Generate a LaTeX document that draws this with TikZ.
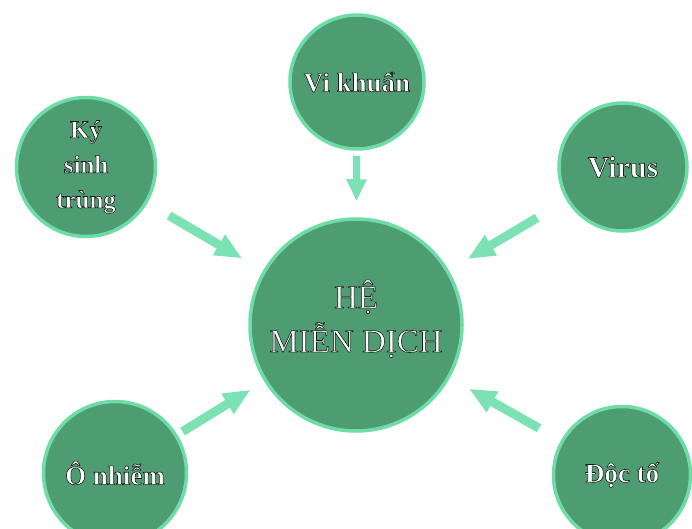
\documentclass[tikz,border=0pt]{standalone}
\usepackage{fontspec}
\setmainfont{Liberation Serif}
\usetikzlibrary{arrows.meta}

\definecolor{nen}{HTML}{4E9C72}
\definecolor{vien}{HTML}{6EDCA6}
\definecolor{muiten}{HTML}{7DE2B3}

% chữ trắng, viền tối
\newcommand{\chu}[1]{\special{pdf:code 2 Tr 0.6 w 0.1 0.1 0.1 RG}#1\special{pdf:code 0 Tr}}

\begin{document}
\begin{tikzpicture}[%
    x=1pt, y=-1pt,
    font=\bfseries\fontsize{27}{35}\selectfont,
    >={Triangle[width=22pt,length=27pt]} % đầu mũi tên
    ]
    \useasboundingbox (0,0) rectangle (692,529);

    \tikzset{
        Vong/.style={circle,draw=vien,line width=3.5pt,fill=nen,
            text=white,align=center,inner sep=0pt,minimum size=#1}, % vòng tròn
        MuiTen/.style={draw=muiten,line width=9pt,->}, % mũi tên
        MuiTenNho/.style={MuiTen,line width=7pt,
            >={Triangle[width=19pt,length=22pt]}}
    }

    % vòng tròn
    \node[Vong=212pt, text depth=18pt, font=\mdseries\fontsize{33}{44}\selectfont]
        (HMD) at (356,325) {\chu{HỆ}\\\chu{MIỄN DỊCH}};
    \node[Vong=134pt] (VK)  at (357,82)  {\chu{Vi khuẩn}};
    \node[Vong=139pt, font=\bfseries\fontsize{25}{35}\selectfont]
        (KST) at (86,167) {\chu{Ký}\\\chu{sinh}\\\chu{trùng}};
    \node[Vong=128pt, font=\bfseries\fontsize{30}{35}\selectfont]
        (VR)  at (623,167) {\chu{Virus}};
    \node[Vong=143pt] (ON)  at (115,473) {\chu{Ô nhiễm}};
    \node[Vong=137pt] (DT)  at (622,475) {\chu{Độc tố}};

    % mũi tên
    \draw[MuiTenNho, shorten <=5pt, shorten >=16pt] (VK) -- (HMD);
    \draw[MuiTen, shorten <=25pt, shorten >=24pt] (KST) -- (HMD);
    \draw[MuiTen, shorten <=34pt, shorten >=22pt] (VR) -- (HMD);
    \draw[MuiTen, shorten <=6pt, shorten >=16pt] (ON) -- (HMD);
    \draw[MuiTen, shorten <=25pt, shorten >=22pt] (DT) -- (HMD);
\end{tikzpicture}
\end{document}
